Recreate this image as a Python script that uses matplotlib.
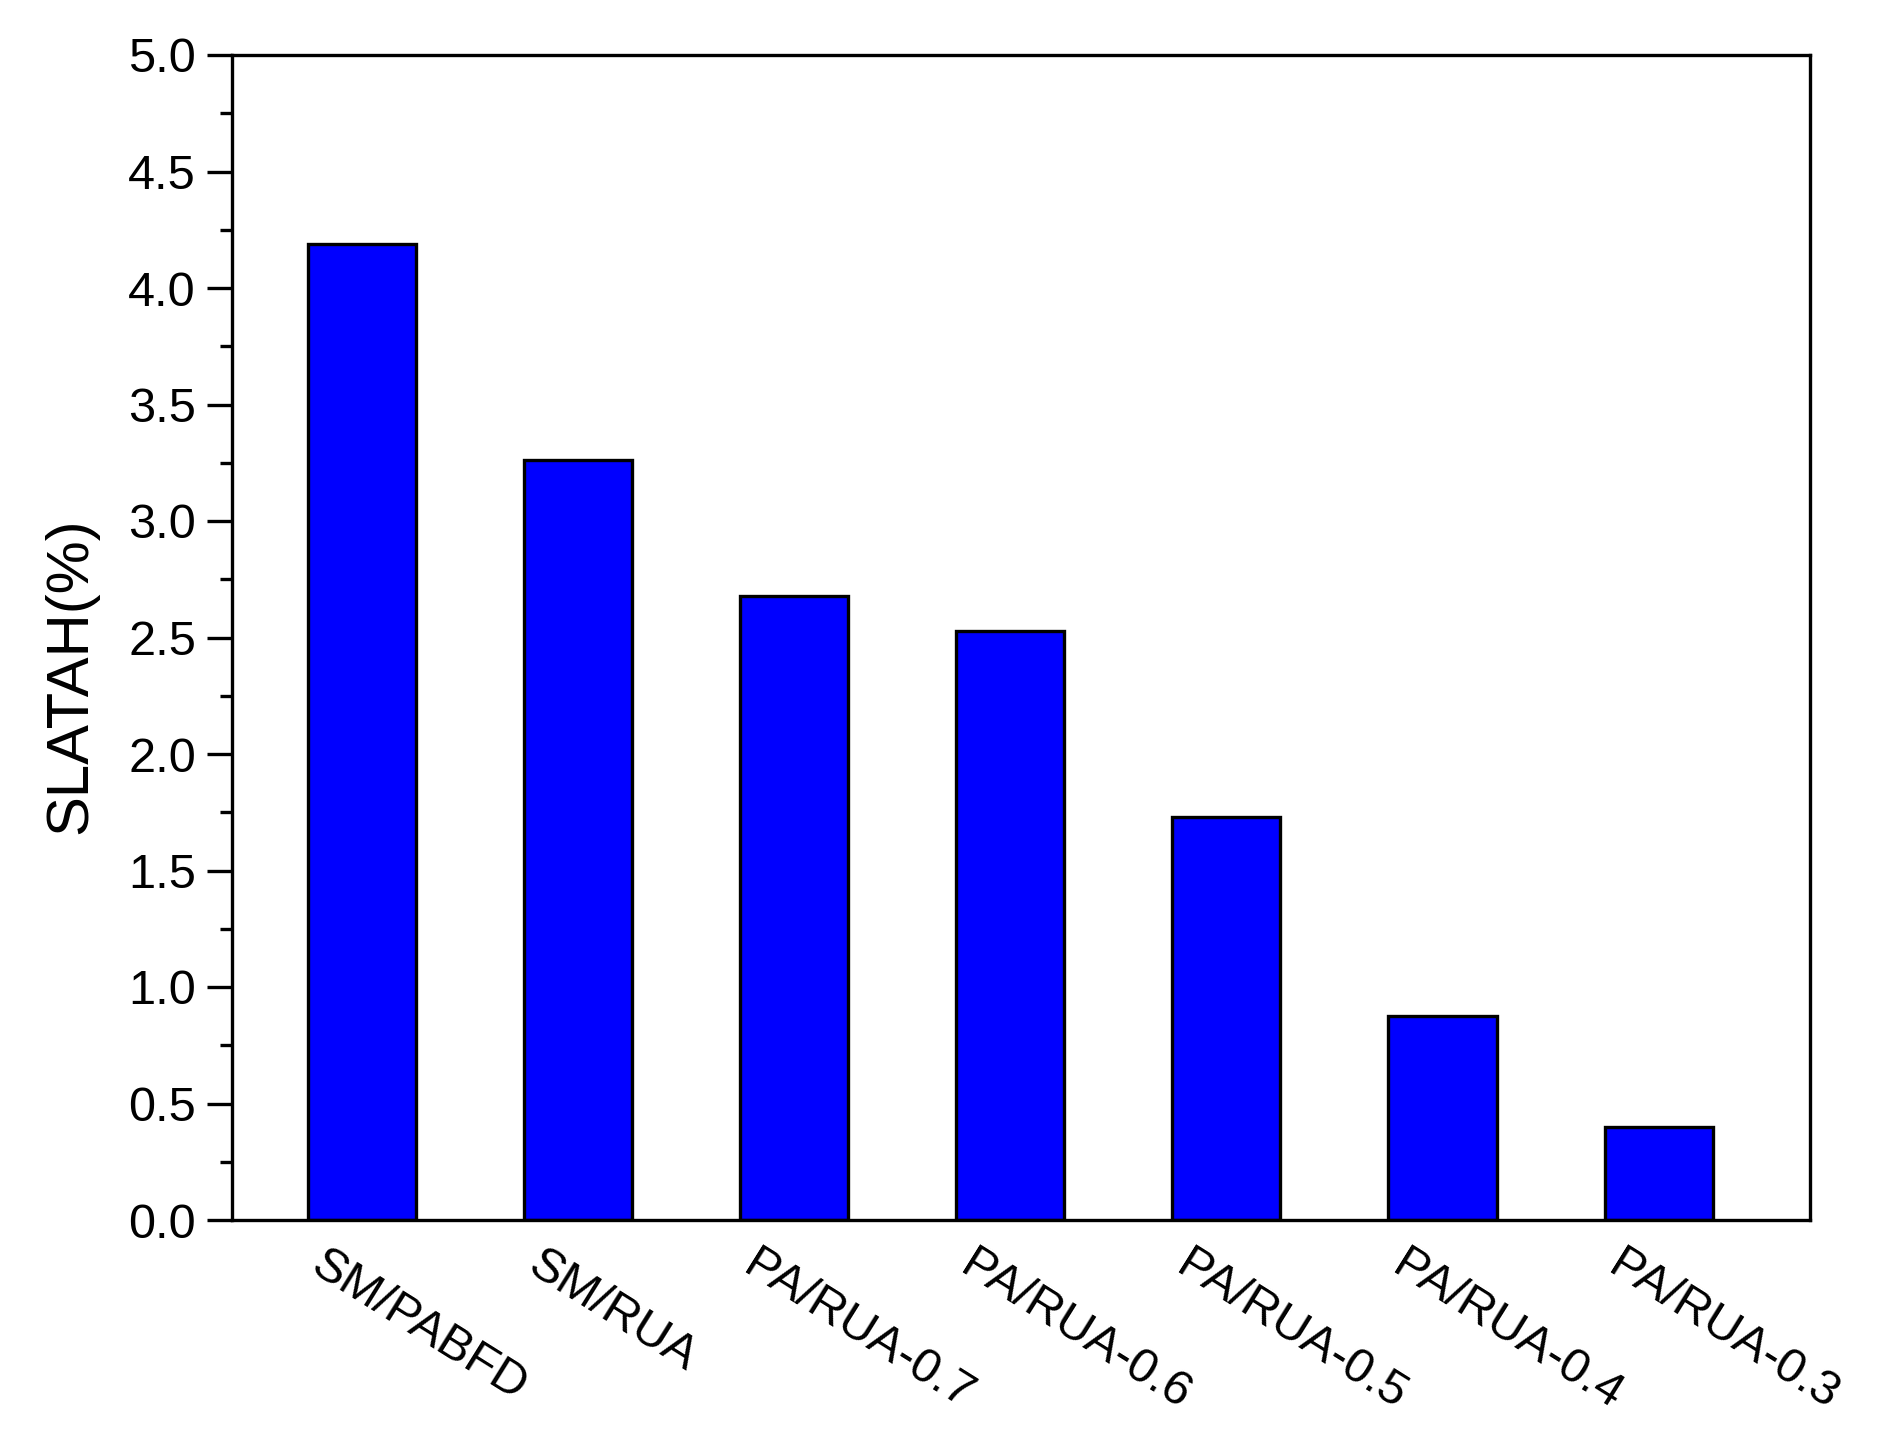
import numpy as np
import matplotlib.pyplot as plt
import matplotlib.transforms as mtransforms
from matplotlib.ticker import MultipleLocator

# Datos
muestras = ["SM/PABFD", "SM/RUA", "PA/RUA-0.7", "PA/RUA-0.6", "PA/RUA-0.5", "PA/RUA-0.4", "PA/RUA-0.3"]
slatah = [4.19, 3.26, 2.68, 2.53, 1.73, 0.875, 0.40]

plt.rcParams['font.family'] = ['Liberation Sans', 'DejaVu Sans']

fig = plt.figure(figsize=(18.88, 14.46), dpi=100)
ax = fig.add_axes([232/1888, 1 - 1220/1446, (1810-232)/1888, (1220-55)/1446])

x = np.arange(len(muestras))
ax.bar(x, slatah, width=0.5, color="#0000ff", edgecolor="black", linewidth=2.4)

ax.set_xlim(-0.6, 6.7)
ax.set_ylim(0, 5.0)
ax.yaxis.set_major_locator(MultipleLocator(0.5))
ax.yaxis.set_minor_locator(MultipleLocator(0.25))
ax.yaxis.set_major_formatter(plt.FormatStrFormatter('%.1f'))

# etiquetas del eje x giradas, desplazadas a la izquierda
ax.set_xticks(x)
ax.set_xticklabels([])
ax.tick_params(axis='x', length=0)
desplaza = mtransforms.ScaledTranslation(-0.34, -0.22, fig.dpi_scale_trans)
for xi, nombre in zip(x, muestras):
    ax.text(xi, 0, nombre, transform=ax.get_xaxis_transform() + desplaza,
            rotation=-32, ha='left', va='top', rotation_mode='anchor', fontsize=35)

ax.tick_params(axis='y', which='major', direction='out', length=18, width=2.4, labelsize=35, pad=8)
ax.tick_params(axis='y', which='minor', direction='out', length=9, width=2.4)

for s in ax.spines.values():
    s.set_linewidth(2.4)

ax.set_ylabel("SLATAH(%)", fontsize=43)
ax.yaxis.set_label_coords(-0.085, 0.467)

plt.savefig("out.png", dpi=100)
